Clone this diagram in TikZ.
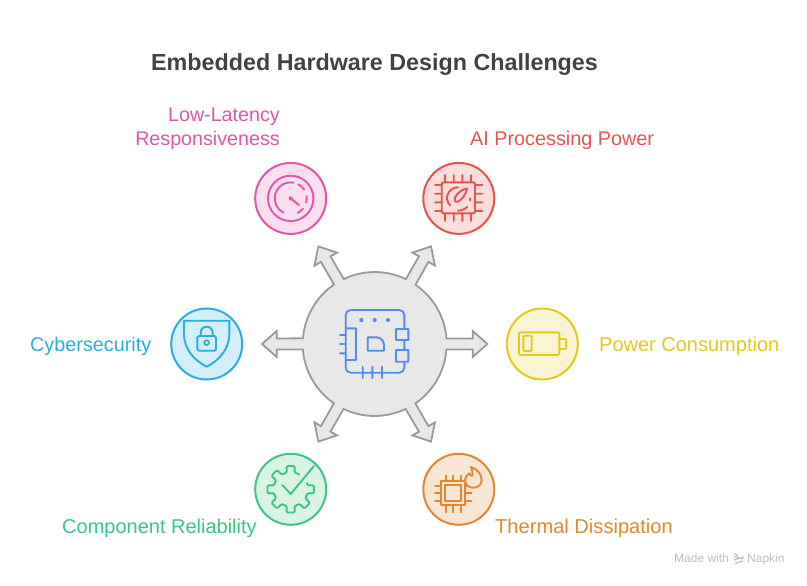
\documentclass[tikz,border=0pt]{standalone}
\usepackage{fontspec}
\setmainfont{Liberation Sans}
\definecolor{hubfill}{HTML}{E8E8E8}
\definecolor{hubline}{HTML}{999999}
\definecolor{hubicon}{HTML}{4F8DEA}
\definecolor{titlecol}{HTML}{424242}
\definecolor{pinkL}{HTML}{E255A8}\definecolor{pinkF}{HTML}{F9DFF0}
\definecolor{redL}{HTML}{E8534F}\definecolor{redF}{HTML}{FADEDC}
\definecolor{blueL}{HTML}{2AAEDD}\definecolor{blueF}{HTML}{D3EFF9}
\definecolor{yelL}{HTML}{E3C91B}\definecolor{yelF}{HTML}{F9F4D1}
\definecolor{greenL}{HTML}{3CC583}\definecolor{greenF}{HTML}{D9F3E5}
\definecolor{oraL}{HTML}{E3872F}\definecolor{oraF}{HTML}{F8E6D5}
\definecolor{markcol}{HTML}{BDBDBD}
\tikzset{
  badge/.style={circle,draw=#1L,fill=#1F,line width=2pt,minimum size=71pt,inner sep=0pt},
  ico/.style={draw=#1,line width=1.9pt,line cap=round,line join=round},
  lab/.style={font=\fontsize{#1}{24}\selectfont,inner sep=0pt},
}
\begin{document}
\begin{tikzpicture}[x=1pt,y=-1pt]
\useasboundingbox (0,0) rectangle (807,586);
% hub with its six arrows, one outline
\node[circle,minimum size=144pt,inner sep=0pt] (hub) at (374.7,344) {};
\begin{scope}[shift={(hub.center)}]
\draw[fill=hubfill,draw=hubline,line width=1.8pt,line join=miter]
  ([rotate=0]72pt,-5.5pt)
  \foreach \a in {0,60,...,300}{
    -- ([rotate=\a]98pt,-5.5pt) -- ([rotate=\a]98pt,-13pt) -- ([rotate=\a]112.7pt,0pt)
    -- ([rotate=\a]98pt,13pt) -- ([rotate=\a]98pt,5.5pt) -- ([rotate=\a]71.8pt,5.5pt)
    arc[start angle=\a+4.4,delta angle=51.2,radius=71.8pt]
  } -- cycle;
\end{scope}
% hub icon
\draw[ico=hubicon] (396,329)-- (396,340) -- (408.3,340) -- (408.3,329) -- cycle
  (396,350) -- (396,361.7) -- (408.3,361.7) -- (408.3,350) -- cycle
  (404.3,329) -- (404.3,315) arc[start angle=0,end angle=90,radius=5pt] -- (350.7,310) arc[start angle=90,end angle=180,radius=5pt] -- (345.7,367.7) arc[start angle=180,end angle=270,radius=5pt] -- (399.3,372.7) arc[start angle=-90,end angle=0,radius=5pt] -- (404.3,361.7)
  (404.3,340) -- (404.3,350)
  (345.7,328.3) -- (356,328.3) -- (356,360) -- (345.7,360)
  (340,335) -- (345.7,335) (340,344) -- (345.7,344) (340,353.3) -- (345.7,353.3)
  (362.7,366.7) -- (362.7,378) (372.3,366.7) -- (372.3,378) (382,366.7) -- (382,378)
  (367.7,337.3) -- (377,337.3) .. controls (381,338) and (384,341) .. (384,345) -- (384,350.7) -- (367.7,350.7) -- cycle;
\fill[hubicon] (361.3,320) circle[radius=2.1pt] (374.7,320) circle[radius=2.1pt] (388,320) circle[radius=2.1pt];
% badges
\node[badge=pink] (latency) at (290.7,198.4) {};
\node[badge=red] (ai) at (458.8,198.4) {};
\node[badge=blue] (cyber) at (206.7,344) {};
\node[badge=yel] (power) at (542.3,344) {};
\node[badge=green] (reliab) at (290.7,489.3) {};
\node[badge=ora] (thermal) at (458.8,489.3) {};
% pink gauge
\begin{scope}[shift={(latency.center)}]
\draw[ico=pinkL] (0,0) circle[radius=22.7pt];
\draw[ico=pinkL] (80:16pt) arc[start angle=80,end angle=243,radius=16pt]
  (61:16pt) arc[start angle=61,end angle=33,radius=16pt]
  (8:16pt) arc[start angle=8,end angle=-15,radius=16pt]
  (-40:16pt) arc[start angle=-40,end angle=-64,radius=16pt]
  (0,0) -- (8.3pt,-6.7pt);
\fill[pinkL] (0,0) circle[radius=2.1pt];
\end{scope}
% red chip
\draw[ico=redL,rounded corners=1.5pt] (441.7,182.3) rectangle (475,213.3);
\draw[ico=redL]
  \foreach \p in {445,453.7,462.3,471}{ (\p,175) -- (\p,182.3) (\p,213.3) -- (\p,221) }
  \foreach \q in {185,193.7,202.3,211}{ (435,\q) -- (441.7,\q) (475,\q) -- (482.3,\q) }
  (458,187.3) .. controls (449,188) and (446.5,195) .. (447,199) .. controls (447.5,202) and (448.5,204) .. (450.3,205.5)
  (458,210.7) .. controls (461,210.7) and (465,209.5) .. (467.3,206.7)
  (470,198.3) -- (470,200.5)
  (455.2,201.5) .. controls (453.5,199.5) and (455,196.5) .. (457,194.5) .. controls (460,191) and (464,189) .. (467,188.5) .. controls (466.5,192) and (464.5,196) .. (461.5,199) .. controls (459,201.5) and (457,203) .. (455.2,201.5) -- cycle;
% blue shield and lock
\draw[ico=blueL] (184,320.7) -- (229.3,320.7) -- (229.3,334) .. controls (229.3,350) and (218,361) .. (206.7,366.7) .. controls (195.4,361) and (184,350) .. (184,334) -- cycle;
\draw[ico=blueL,rounded corners=1.5pt] (197.3,336) rectangle (216,350.7);
\draw[ico=blueL] (200.7,336) -- (200.7,332.7) arc[start angle=180,end angle=0,radius=6pt] -- (212.7,336);
\draw[ico=blueL,line width=1.6pt] (206.7,342.7) circle[radius=2.5pt];
% yellow battery
\draw[ico=yelL,rounded corners=2pt] (519,332.3) rectangle (559.3,355);
\draw[ico=yelL,rounded corners=1.5pt] (559.3,339) -- (566.3,339) -- (566.3,349) -- (559.3,349);
\draw[ico=yelL,rounded corners=1pt] (523.3,335.7) rectangle (531.7,351);
% green gear and tick
\begin{scope}[shift={(reliab.center)}]
\draw[ico=greenL,rounded corners=1.2pt] (60:17.2pt)
  \foreach \a in {90,135,...,360}{
    -- (\a-13:17.2pt) -- (\a-10:23.6pt) -- (\a+10:23.6pt) -- (\a+13:17.2pt)
  } -- (21:17.5pt);
\end{scope}
\draw[ico=greenL] (282.3,485) -- (290.7,494) -- (314,466);
% orange chip and flame
\draw[ico=oraL] (441,481) rectangle (465,505) (445,485) rectangle (460.7,500.7)
  \foreach \p in {445.7,453.3,461}{ (\p,475.7) -- (\p,481) (\p,505) -- (\p,512.3) }
  \foreach \q in {485.7,493.3,500.7}{ (435,\q) -- (441,\q) (465,\q) -- (471.7,\q) };
\fill[oraF] (473.3,478) circle[radius=10pt];
\draw[ico=oraL] (471,467) .. controls (477,469) and (481.7,474) .. (481.7,480) .. controls (481.7,484.5) and (478,487.7) .. (473.3,487.7) .. controls (468.5,487.7) and (465,484.5) .. (465,480) .. controls (465,477.5) and (467,475) .. (469.3,473.3) .. controls (469.8,475) and (470.8,476) .. (472.3,475.7) .. controls (472.8,473) and (472.5,469.5) .. (471,467) -- cycle;
% texts
\node[lab=24,font=\fontsize{23.3}{28}\bfseries\selectfont,text=titlecol,anchor=base west] (title) at (151,70.5) {Embedded Hardware Design Challenges};
\node[lab=19.7,text=pinkL,anchor=base east] (t1a) at (280,121.7) {Low-Latency};
\node[lab=19.7,text=pinkL,anchor=base east] (t1b) at (280,145.7) {Responsiveness};
\node[lab=19.8,text=redL,anchor=base west] (t2) at (470,145.7) {AI Processing Power};
\node[lab=19.8,text=blueL,anchor=base west] (t3) at (30,351) {Cybersecurity};
\node[lab=20,text=yelL,anchor=base west] (t4) at (599,351) {Power Consumption};
\node[lab=20,text=greenL,anchor=base west] (t5) at (62,533) {Component Reliability};
\node[lab=20.1,text=oraL,anchor=base west] (t6) at (495,533) {Thermal Dissipation};
\node[lab=12,text=markcol,anchor=base west] (m1) at (674,562.5) {Made with};
\node[lab=12,text=markcol,anchor=base west] (m2) at (747,562.5) {Napkin};
\draw[markcol,line width=1.2pt] (734,553.5) -- (738,555.5) (734,556.5) -- (743,559) (734,560) -- (744,557) (735,563.5) -- (743,561);
\end{tikzpicture}
\end{document}
